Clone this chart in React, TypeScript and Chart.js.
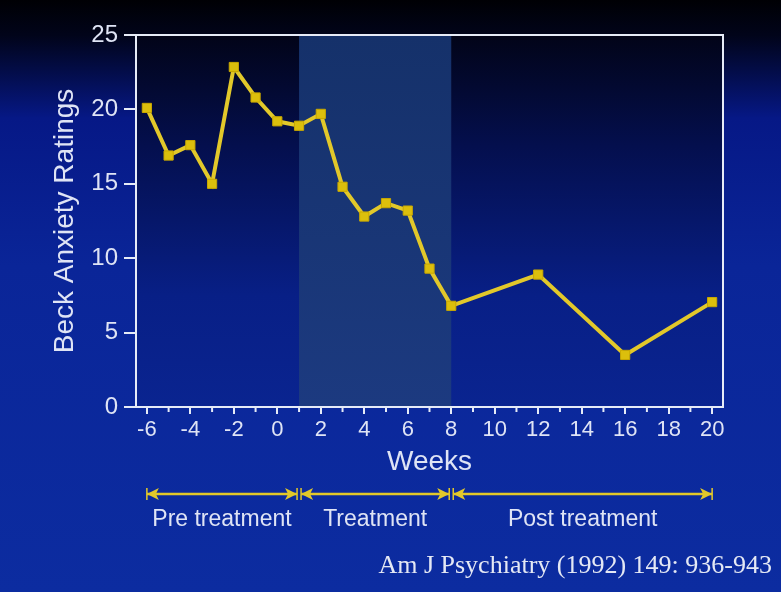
import React, { useEffect, useRef } from "react";
import { Chart, registerables } from "chart.js";

Chart.register(...registerables);

const weeks = [-6, -5, -4, -3, -2, -1, 0, 1, 2, 3, 4, 5, 6, 7, 8, 12, 16, 20];
const ratings = [20.1, 16.9, 17.6, 15.0, 22.85, 20.8, 19.2, 18.9, 19.7, 14.8, 12.8, 13.7, 13.2, 9.3, 6.8, 8.9, 3.5, 7.05];
const xTickValues = [-6, -4, -2, 0, 2, 4, 6, 8, 10, 12, 14, 16, 18, 20];
const phaseBounds = [-6, 1, 8, 20];
const phaseLabels = ["Pre treatment", "Treatment", "Post treatment"];
const treatmentRange = [1, 8];
const citation = "Am J Psychiatry (1992) 149: 936-943";

const TEXT = "#dfe4f5";
const YELLOW = "#e2c82a";
const SANS = '"Liberation Sans", Arial, sans-serif';

const decorPlugin = {
  id: "decor",
  beforeDraw(chart: any) {
    const { ctx, width, height, chartArea, scales } = chart;
    ctx.save();
    const g = ctx.createLinearGradient(0, 0, 0, height);
    g.addColorStop(0, "#000004");
    g.addColorStop(0.06, "#01041a");
    g.addColorStop(0.2, "#061886");
    g.addColorStop(0.45, "#0a2598");
    g.addColorStop(1, "#0c2ca0");
    ctx.fillStyle = g;
    ctx.fillRect(0, 0, width, height);
    const pg = ctx.createLinearGradient(0, chartArea.top, 0, chartArea.bottom);
    pg.addColorStop(0, "#020418");
    pg.addColorStop(0.3, "#040f4e");
    pg.addColorStop(0.7, "#081f86");
    pg.addColorStop(1, "#0a2490");
    ctx.fillStyle = pg;
    ctx.fillRect(chartArea.left, chartArea.top, chartArea.right - chartArea.left, chartArea.bottom - chartArea.top);
    const x1 = scales.x.getPixelForValue(treatmentRange[0]);
    const x2 = scales.x.getPixelForValue(treatmentRange[1]);
    const sg = ctx.createLinearGradient(0, chartArea.top, 0, chartArea.bottom);
    sg.addColorStop(0, "#15316a");
    sg.addColorStop(1, "#1c3a80");
    ctx.fillStyle = sg;
    ctx.fillRect(x1, chartArea.top, x2 - x1, chartArea.bottom - chartArea.top);
    ctx.restore();
  },
  afterDraw(chart: any) {
    const { ctx, chartArea, scales } = chart;
    const xs = scales.x;
    ctx.save();
    ctx.strokeStyle = "#e6ebf7";
    ctx.lineWidth = 2;
    ctx.beginPath();
    ctx.moveTo(chartArea.left, chartArea.top);
    ctx.lineTo(chartArea.right, chartArea.top);
    ctx.lineTo(chartArea.right, chartArea.bottom);
    ctx.stroke();
    for (let v = Math.ceil(xs.min); v <= xs.max; v++) {
      if (xTickValues.includes(v)) continue;
      const px = xs.getPixelForValue(v);
      ctx.beginPath();
      ctx.moveTo(px, chartArea.bottom);
      ctx.lineTo(px, chartArea.bottom + 5);
      ctx.stroke();
    }
    const ay = 494;
    for (let i = 0; i < phaseLabels.length; i++) {
      const a = xs.getPixelForValue(phaseBounds[i]) + (i === 0 ? 0 : 2);
      const b = xs.getPixelForValue(phaseBounds[i + 1]) - (i === phaseLabels.length - 1 ? 0 : 2);
      ctx.strokeStyle = YELLOW;
      ctx.fillStyle = YELLOW;
      ctx.lineWidth = 2.5;
      ctx.beginPath();
      ctx.moveTo(a, ay);
      ctx.lineTo(b, ay);
      ctx.stroke();
      ctx.beginPath();
      ctx.moveTo(a, ay);
      ctx.lineTo(a + 12, ay - 6);
      ctx.lineTo(a + 9, ay);
      ctx.lineTo(a + 12, ay + 6);
      ctx.closePath();
      ctx.fill();
      ctx.beginPath();
      ctx.moveTo(b, ay);
      ctx.lineTo(b - 12, ay - 6);
      ctx.lineTo(b - 9, ay);
      ctx.lineTo(b - 12, ay + 6);
      ctx.closePath();
      ctx.fill();
      ctx.lineWidth = 1.5;
      ctx.beginPath();
      ctx.moveTo(a, ay - 6);
      ctx.lineTo(a, ay + 6);
      ctx.moveTo(b, ay - 6);
      ctx.lineTo(b, ay + 6);
      ctx.stroke();
      ctx.fillStyle = TEXT;
      ctx.font = "23px " + SANS;
      ctx.textAlign = "center";
      ctx.textBaseline = "middle";
      ctx.fillText(phaseLabels[i], (a + b) / 2, 520);
    }
    ctx.fillStyle = "#e4e8f4";
    ctx.font = '26px "Liberation Serif", "Times New Roman", serif';
    ctx.textAlign = "right";
    ctx.textBaseline = "middle";
    ctx.fillText(citation, 772, 566);
    ctx.restore();
  },
};

export default function App() {
  const ref = useRef<HTMLCanvasElement>(null);
  useEffect(() => {
    document.body.style.margin = "0";
    const chart = new Chart(ref.current as HTMLCanvasElement, {
      type: "line",
      data: {
        datasets: [
          {
            data: weeks.map((w, i) => ({ x: w, y: ratings[i] })),
            borderColor: YELLOW,
            borderWidth: 4,
            backgroundColor: "#dcbf0c",
            pointBorderColor: "#c9a800",
            pointBorderWidth: 1,
            pointStyle: "rect",
            pointRadius: 6.5,
            tension: 0,
          },
        ],
      },
      options: {
        animation: false,
        responsive: false,
        layout: { padding: { left: 44, top: 35, right: 58, bottom: 109 } },
        plugins: { legend: { display: false }, tooltip: { enabled: false } },
        scales: {
          x: {
            type: "linear",
            min: -6.5,
            max: 20.5,
            afterFit: (s: any) => {
              s.height = 76;
            },
            afterBuildTicks: (s: any) => {
              s.ticks = xTickValues.map((v) => ({ value: v }));
            },
            grid: {
              drawOnChartArea: false,
              drawTicks: true,
              tickLength: 7,
              color: "#e6ebf7",
              lineWidth: 2,
            },
            border: { display: true, color: "#e6ebf7", width: 2 },
            ticks: {
              color: TEXT,
              font: { family: SANS, size: 22 },
              padding: 3,
              maxRotation: 0,
              autoSkip: false,
            },
            title: {
              display: true,
              text: "Weeks",
              color: TEXT,
              font: { family: SANS, size: 28 },
              padding: { top: 0, bottom: 4 },
            },
          },
          y: {
            min: 0,
            max: 25,
            afterFit: (s: any) => {
              s.width = 92;
            },
            ticks: {
              stepSize: 5,
              color: TEXT,
              font: { family: SANS, size: 24 },
              padding: 6,
            },
            grid: {
              drawOnChartArea: false,
              drawTicks: true,
              tickLength: 12,
              color: "#e6ebf7",
              lineWidth: 2,
            },
            border: { display: true, color: "#e6ebf7", width: 2 },
            title: {
              display: true,
              text: "Beck Anxiety Ratings",
              color: TEXT,
              font: { family: SANS, size: 28 },
              padding: { top: 4, bottom: 0 },
            },
          },
        },
      },
      plugins: [decorPlugin],
    });
    return () => chart.destroy();
  }, []);
  return (
    <div style={{ width: 781, height: 592 }}>
      <canvas ref={ref} width={781} height={592} />
    </div>
  );
}
